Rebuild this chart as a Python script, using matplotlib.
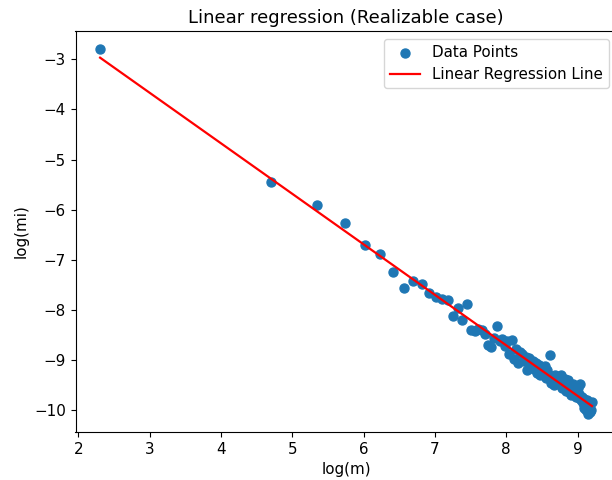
import numpy as np
import matplotlib
matplotlib.use("Agg")
import matplotlib.pyplot as plt

log_m = [2.303, 4.700, 5.347, 5.737, 6.016, 6.234, 6.413, 6.565, 6.697, 6.813,
         6.918, 7.012, 7.098, 7.178, 7.251, 7.320, 7.384, 7.444, 7.501, 7.555,
         7.606, 7.655, 7.701, 7.745, 7.787, 7.828, 7.867, 7.905, 7.941, 7.976,
         8.010, 8.042, 8.074, 8.105, 8.134, 8.163, 8.191, 8.219, 8.245, 8.271,
         8.297, 8.321, 8.345, 8.369, 8.392, 8.414, 8.436, 8.458, 8.479, 8.499,
         8.519, 8.539, 8.558, 8.577, 8.596, 8.614, 8.632, 8.650, 8.667, 8.684,
         8.701, 8.718, 8.734, 8.750, 8.766, 8.781, 8.796, 8.811, 8.826, 8.841,
         8.855, 8.869, 8.883, 8.897, 8.911, 8.924, 8.937, 8.950, 8.963, 8.976,
         8.988, 9.001, 9.013, 9.025, 9.037, 9.049, 9.061, 9.072, 9.084, 9.095,
         9.106, 9.117, 9.128, 9.139, 9.150, 9.160, 9.171, 9.181, 9.191, 9.201]

log_mi = [-2.80, -5.44, -5.91, -6.27, -6.70, -6.88, -7.24, -7.56, -7.42, -7.48,
          -7.67, -7.75, -7.79, -7.80, -8.13, -7.96, -8.20, -7.89, -8.40, -8.42,
          -8.38, -8.40, -8.47, -8.70, -8.74, -8.55, -8.32, -8.62, -8.58, -8.72,
          -8.62, -8.88, -8.60, -8.97, -8.78, -9.05, -8.84, -8.88, -9.02, -8.93,
          -9.20, -8.95, -9.12, -9.02, -9.18, -9.06, -9.25, -9.10, -9.30, -9.15,
          -9.28, -9.12, -9.35, -9.20, -9.30, -8.90, -9.45, -9.38, -9.50, -9.30,
          -9.42, -9.35, -9.48, -9.40, -9.30, -9.55, -9.42, -9.50, -9.38, -9.62,
          -9.50, -9.40, -9.63, -9.53, -9.70, -9.57, -9.47, -9.65, -9.60, -9.73,
          -9.67, -9.55, -9.75, -9.67, -9.47, -9.80, -9.73, -9.85, -9.77, -9.95,
          -9.83, -10.00, -9.90, -9.80, -10.07, -9.97, -10.03, -9.87, -10.00, -9.83]

x = np.array(log_m)
y = np.array(log_mi)
slope, intercept = np.polyfit(x, y, 1)

plt.rcParams['font.size'] = 10.9
fig = plt.figure(figsize=(6.12, 4.8), dpi=100)
ax = fig.add_axes([75.5 / 612, 1 - 432 / 480, 541 / 612, 401 / 480])
ax.scatter(x, y, s=42, label='Data Points')
ax.plot(x, intercept + slope * x, color='red', lw=1.6, label='Linear Regression Line')
ax.set_title('Linear regression (Realizable case)', fontsize=13)
ax.set_xlabel('log(m)')
ax.set_ylabel('log(mi)')
ax.legend(loc='upper right')
fig.savefig('out.png', dpi=100)
